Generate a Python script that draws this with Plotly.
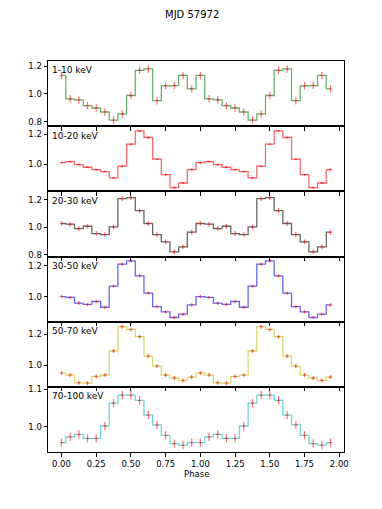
import plotly.graph_objs as go

#phase bins (16 per cycle, shown twice)
phase_bins=[0.0,0.0625,0.125,0.1875,0.25,0.3125,0.375,0.4375,0.5,0.5625,0.625,0.6875,0.75,0.8125,0.875,0.9375]
phase=phase_bins+[p+1 for p in phase_bins]

#pulse profiles per energy band
band_names=['1-10 keV','10-20 keV','20-30 keV','30-50 keV','50-70 keV','70-100 keV']
prof_1_10=[1.133,0.964,0.956,0.915,0.898,0.869,0.811,0.855,0.988,1.170,1.180,0.951,1.058,1.060,1.133,1.036]
prof_10_20=[1.011,1.018,0.998,0.980,0.964,0.951,0.908,0.987,1.135,1.224,1.180,1.034,0.930,0.843,0.874,0.964]
prof_20_30=[1.027,1.022,0.990,1.007,0.954,0.947,1.002,1.207,1.214,1.120,1.027,0.947,0.894,0.822,0.858,0.964]
prof_30_50=[1.002,0.996,0.959,0.951,0.970,0.933,1.069,1.211,1.232,1.135,1.024,0.937,0.903,0.867,0.888,0.948]
prof_50_70=[0.951,0.938,0.888,0.886,0.929,0.938,1.093,1.250,1.232,1.185,1.060,0.996,0.938,0.919,0.903,0.925]
prof_70_100=[0.958,0.973,0.980,0.969,0.969,1.002,1.063,1.084,1.084,1.070,1.031,1.005,0.977,0.955,0.951,0.958]
profiles=[prof_1_10,prof_10_20,prof_20_30,prof_30_50,prof_50_70,prof_70_100]

#errors (roughly constant per band)
err_1_10=[0.027]*16
err_10_20=[0.007]*16
err_20_30=[0.018]*16
err_30_50=[0.011]*16
err_50_70=[0.013]*16
err_70_100=[0.011]*16
errors=[err_1_10,err_10_20,err_20_30,err_30_50,err_50_70,err_70_100]

#axis ranges and ticks
yranges=[[0.767,1.237],[0.818,1.256],[0.788,1.26],[0.84,1.26],[0.862,1.282],[0.933,1.106]]
yticks=[[0.8,1.0,1.2],[1.0,1.2],[0.8,1.0,1.2],[1.0,1.2],[1.0,1.2],[1.0,1.1]]
xticks=[0.0,0.25,0.5,0.75,1.0,1.25,1.5,1.75,2.0]

colors=['rgba(0,128,0,0.6)','rgba(255,0,0,0.6)','rgba(0,0,0,0.6)','rgba(0,0,255,0.6)','rgba(191,191,0,0.6)','rgba(0,191,191,0.6)']
errcol='rgba(255,0,0,0.55)'

fig=go.Figure()
layout={}
n=6
gap=1.0/n
for i in range(n):
    ax='' if i==0 else str(i+1)
    y=profiles[i]+profiles[i]
    e=errors[i]+errors[i]
    fig.add_trace(go.Scatter(x=phase,y=y,mode='lines',line=dict(color=colors[i],width=1.3,shape='hvh'),
                             xaxis='x'+ax,yaxis='y'+ax,showlegend=False,hoverinfo='skip'))
    fig.add_trace(go.Scatter(x=phase,y=y,mode='markers',marker=dict(size=0.1,color=errcol),
                             error_y=dict(type='data',array=e,color=errcol,thickness=1.2,width=0),
                             error_x=dict(type='constant',value=0.012,color=errcol,thickness=1,width=0),
                             xaxis='x'+ax,yaxis='y'+ax,showlegend=False))
    top=1-i*gap
    bot=1-(i+1)*gap
    last=(i==n-1)
    layout['xaxis'+ax]=dict(domain=[0,1],anchor='y'+ax,range=[-0.097,2.034],tickvals=xticks,
                            ticktext=['%.2f'%t for t in xticks],showticklabels=last,
                            ticks='outside',ticklen=3.5,tickcolor='black',showline=True,mirror=True,
                            linecolor='black',linewidth=1,showgrid=False,zeroline=False,
                            tickfont=dict(size=8.5,color='black'))
    if not last:
        layout['xaxis'+ax]['matches']='x'
    layout['yaxis'+ax]=dict(domain=[bot,top],anchor='x'+ax,range=yranges[i],tickvals=yticks[i],
                            ticktext=['%.1f'%t for t in yticks[i]],ticks='outside',ticklen=3.5,
                            tickcolor='black',showline=True,mirror=True,linecolor='black',linewidth=1,
                            showgrid=False,zeroline=False,tickfont=dict(size=8.5,color='black'))
    fig.add_annotation(text=band_names[i],xref='paper',yref='paper',x=0.006,y=top-0.006,
                       xanchor='left',yanchor='top',showarrow=False,font=dict(size=9,color='black'))

fig.add_annotation(text='MJD 57972',xref='paper',yref='paper',x=0.486,y=1.118,xanchor='center',
                   yanchor='middle',showarrow=False,font=dict(size=10,color='black'))
fig.add_annotation(text='Phase',xref='paper',yref='paper',x=0.5,y=-0.056,xanchor='center',
                   yanchor='middle',showarrow=False,font=dict(size=8.5,color='black'))

fig.update_layout(width=374,height=501,margin=dict(l=40,r=38,t=53,b=57),
                  paper_bgcolor='white',plot_bgcolor='white',
                  font=dict(family='DejaVu Sans',color='black'),**layout)
fig.write_html("out.html")
